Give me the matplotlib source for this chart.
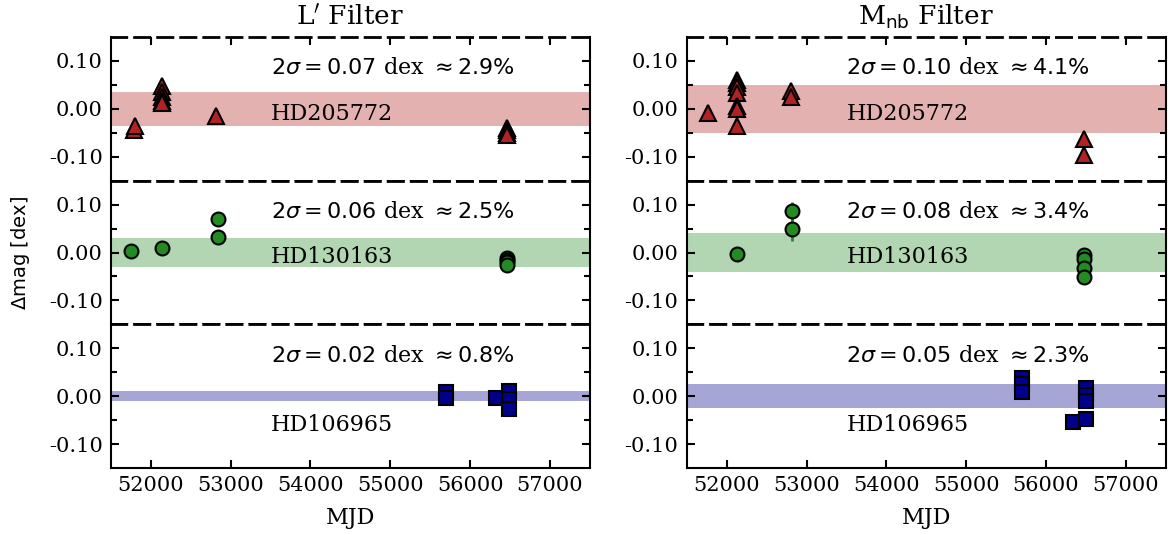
import matplotlib
matplotlib.use("Agg")
import matplotlib.pyplot as plt
from matplotlib.ticker import MultipleLocator, FixedLocator, StrMethodFormatter

plt.rcParams['font.family'] = 'DejaVu Serif'
plt.rcParams['mathtext.fontset'] = 'dejavusans'
plt.rcParams['axes.unicode_minus'] = False

# ---------------- data ----------------
filters = [r"L$^\prime$ Filter", r"M$_{\rm nb}$ Filter"]
stars = ["HD205772", "HD130163", "HD106965"]
sigma_text_L = [r"$2\sigma = 0.07$ dex $\approx 2.9\%$",
                r"$2\sigma = 0.06$ dex $\approx 2.5\%$",
                r"$2\sigma = 0.02$ dex $\approx 0.8\%$"]
sigma_text_M = [r"$2\sigma = 0.10$ dex $\approx 4.1\%$",
                r"$2\sigma = 0.08$ dex $\approx 3.4\%$",
                r"$2\sigma = 0.05$ dex $\approx 2.3\%$"]
band_L = [0.035, 0.03, 0.01]
band_M = [0.05, 0.04, 0.025]

# L' filter
L_hd205772_mjd = [51790, 51805, 52140, 52140, 52140, 52140, 52140, 52815, 56465, 56465, 56465, 56465]
L_hd205772_dmag = [-0.044, -0.036, 0.048, 0.036, 0.025, 0.017, 0.012, -0.016, -0.040, -0.045, -0.050, -0.055]
L_hd205772_err = [0.003] * 12
L_hd130163_mjd = [51752, 52143, 52836, 52836, 56465, 56465, 56465, 56465]
L_hd130163_dmag = [0.004, 0.010, 0.070, 0.032, -0.012, -0.016, -0.020, -0.026]
L_hd130163_err = [0.003, 0.003, 0.004, 0.006, 0.003, 0.003, 0.003, 0.003]
L_hd106965_mjd = [55700, 55700, 56330, 56490, 56490, 56490]
L_hd106965_dmag = [0.009, -0.004, -0.003, 0.011, -0.006, -0.027]
L_hd106965_err = [0.003] * 6

# M_nb filter
M_hd205772_mjd = [51760, 52130, 52130, 52130, 52130, 52130, 52130, 52130, 52810, 52810, 56482, 56482]
M_hd205772_dmag = [-0.008, 0.060, 0.053, 0.045, 0.033, 0.005, -0.001, -0.036, 0.037, 0.025, -0.063, -0.096]
M_hd205772_err = [0.003] * 12
M_hd130163_mjd = [52129, 52823, 52823, 56482, 56482, 56482, 56482]
M_hd130163_dmag = [-0.003, 0.086, 0.049, -0.006, -0.014, -0.032, -0.051]
M_hd130163_err = [0.003, 0.020, 0.024, 0.004, 0.004, 0.004, 0.004]
M_hd106965_mjd = [55697, 55697, 55697, 56344, 56506, 56506, 56506, 56506]
M_hd106965_dmag = [0.038, 0.025, 0.009, -0.053, 0.017, 0.003, -0.010, -0.048]
M_hd106965_err = [0.015, 0.004, 0.004, 0.003, 0.004, 0.004, 0.004, 0.004]

colors = ["#b22222", "#228b22", "#00008b"]
markers = ["^", "o", "s"]
msizes = [11, 10, 10]
hd_text_y = [-0.01, -0.01, -0.06]

series = [
    [(L_hd205772_mjd, L_hd205772_dmag, L_hd205772_err),
     (L_hd130163_mjd, L_hd130163_dmag, L_hd130163_err),
     (L_hd106965_mjd, L_hd106965_dmag, L_hd106965_err)],
    [(M_hd205772_mjd, M_hd205772_dmag, M_hd205772_err),
     (M_hd130163_mjd, M_hd130163_dmag, M_hd130163_err),
     (M_hd106965_mjd, M_hd106965_dmag, M_hd106965_err)],
]
bands = [band_L, band_M]
sig_texts = [sigma_text_L, sigma_text_M]

fig, axes = plt.subplots(3, 2, figsize=(11.68, 5.35), dpi=100,
                         gridspec_kw=dict(hspace=0, wspace=0.2025,
                                          left=0.095, right=0.998,
                                          top=0.931, bottom=0.125))

dash = (0, (5.5, 2.8))
for col in range(2):
    for row in range(3):
        ax = axes[row, col]
        x, y, e = series[col][row]
        c = colors[row]
        ax.axhspan(-bands[col][row], bands[col][row], color=c, alpha=0.35, lw=0, zorder=0)
        ax.errorbar(x, y, yerr=e, fmt=markers[row], ms=msizes[row], mfc=c, mec='black',
                    mew=1.5, ecolor=c, elinewidth=2, capsize=0, zorder=3)
        ax.text(53500, 0.085, sig_texts[col][row], fontsize=16, va='center', ha='left')
        ax.text(53500, hd_text_y[row], stars[row], fontsize=16, va='center', ha='left')
        ax.set_xlim(51500, 57500)
        ax.set_ylim(-0.15, 0.15)
        ax.yaxis.set_major_locator(FixedLocator([-0.10, 0.0, 0.10]))
        ax.yaxis.set_minor_locator(FixedLocator([-0.05, 0.05]))
        ax.yaxis.set_major_formatter(StrMethodFormatter('{x:.2f}'))
        ax.xaxis.set_major_locator(MultipleLocator(1000))
        for s in ax.spines.values():
            s.set_linewidth(1.5)
        if row != 2:
            ax.spines['bottom'].set_linestyle(dash)
            ax.spines['bottom'].set_linewidth(2)
        ax.spines['top'].set_linestyle(dash)
        ax.spines['top'].set_linewidth(2)
        ax.tick_params(axis='y', which='both', direction='in', left=True, right=True,
                       labelsize=15, width=1.5, pad=6)
        ax.tick_params(axis='y', which='major', length=6)
        ax.tick_params(axis='y', which='minor', length=4)
        ax.tick_params(axis='x', which='both', direction='in', width=1.5, length=6,
                       top=(row == 0), bottom=(row == 2), labelbottom=(row == 2),
                       labelsize=15, pad=6)
    axes[0, col].set_title(filters[col], fontsize=19, pad=9)
    axes[2, col].set_xlabel("MJD", fontsize=16, labelpad=8)

axes[1, 0].set_ylabel(r"$\Delta\mathrm{mag\ [dex]}$", fontsize=14)
axes[1, 0].yaxis.set_label_coords(-0.165, 0.5)

fig.savefig("out.png", dpi=100)
